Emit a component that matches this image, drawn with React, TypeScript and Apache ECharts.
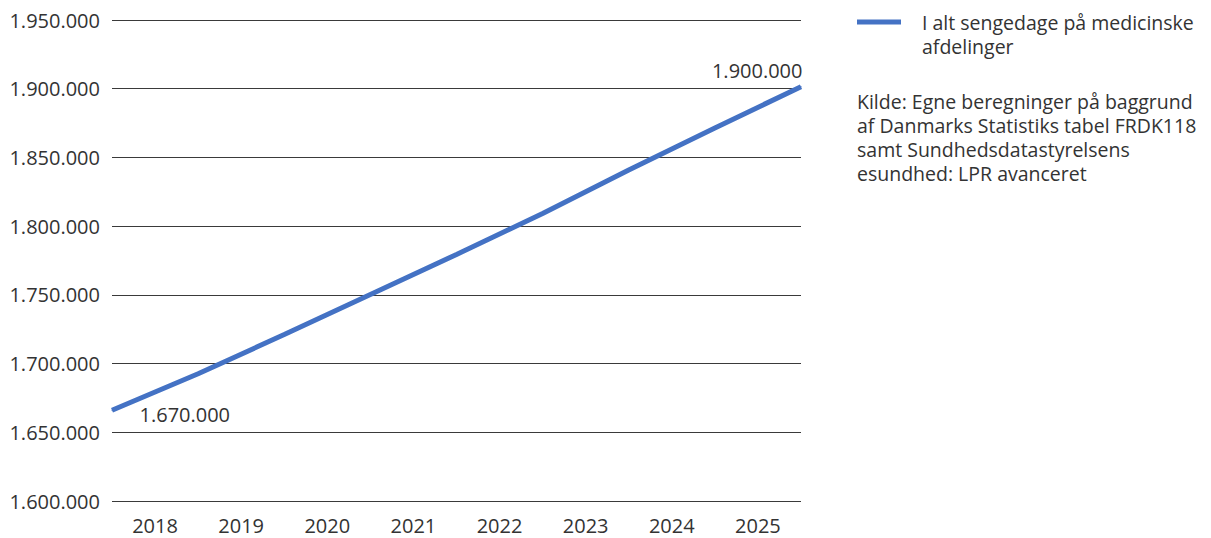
import React, { useEffect, useRef } from "react";
import * as echarts from "echarts";

const years = ["2018", "2019", "2020", "2021", "2022", "2023", "2024", "2025"];
// line values read at the category boundaries (start of 2018 ... end of 2025)
const boundaryX = [2017.5, 2018.5, 2019.5, 2020.5, 2021.5, 2022.5, 2023.5, 2024.5, 2025.5];
const sengedage = [1666000, 1692600, 1721100, 1750300, 1779400, 1809200, 1840800, 1871400, 1901500];
const pointLabels = ["1.670.000", "", "", "", "", "", "", "", "1.900.000"];
const seriesName = "I alt sengedage på medicinske\nafdelinger";
const sourceText =
  "Kilde: Egne beregninger på baggrund\naf Danmarks Statistiks tabel FRDK118\nsamt Sundhedsdatastyrelsens\nesundhed: LPR avanceret";

const FONT = "'Open Sans', 'Noto Sans', sans-serif";
const TEXT = "#333333";
const BLUE = "#4472C4";
const NUM_SIZE = 20;
const TXT_SIZE = 19.5;

const fmt = (v: number) => String(Math.round(v)).replace(/\B(?=(\d{3})+(?!\d))/g, ".");

export default function App() {
  const ref = useRef<HTMLDivElement>(null);
  useEffect(() => {
    if (!ref.current) return;
    const chart = echarts.init(ref.current, undefined, { renderer: "svg" });
    const data = boundaryX.map((x, i) => {
      const item: any = { value: [x, sengedage[i]] };
      if (pointLabels[i]) {
        item.label =
          i === 0
            ? { show: true, position: "right", distance: 27, offset: [0, 4], formatter: pointLabels[i] }
            : { show: true, position: "left", distance: 0, offset: [2, -16], formatter: pointLabels[i] };
      }
      return item;
    });
    chart.setOption({
      animation: false,
      textStyle: { fontFamily: FONT },
      grid: { left: 112, right: 410, top: 20, bottom: 37, containLabel: false },
      title: {
        text: sourceText,
        left: 857,
        top: 89,
        padding: 0,
        textStyle: { fontFamily: FONT, fontSize: TXT_SIZE, fontWeight: "normal", color: TEXT, lineHeight: 24 },
      },
      legend: {
        left: 857,
        top: -14,
        padding: 0,
        itemWidth: 44,
        itemHeight: 5,
        itemGap: 0,
        icon: "rect",
        data: [seriesName],
        formatter: (name: string) => " \n" + name,
        textStyle: {
          fontFamily: FONT,
          fontSize: TXT_SIZE,
          color: TEXT,
          lineHeight: 24,
          padding: [0, 0, 0, 16],
        },
      },
      xAxis: [
        {
          type: "category",
          data: years,
          boundaryGap: true,
          axisLine: { show: false },
          axisTick: { show: false },
          axisLabel: { fontFamily: FONT, fontSize: NUM_SIZE, color: TEXT, margin: 14 },
        },
        {
          type: "value",
          min: 2017.5,
          max: 2025.5,
          show: false,
          splitLine: { show: false },
        },
      ],
      yAxis: {
        type: "value",
        min: 1600000,
        max: 1950000,
        interval: 50000,
        axisLine: { show: false },
        axisTick: { show: false },
        axisLabel: { fontFamily: FONT, fontSize: NUM_SIZE, color: TEXT, margin: 12, formatter: fmt },
        splitLine: { lineStyle: { color: "#3a3a3a", width: 1 } },
      },
      series: [
        {
          name: seriesName,
          type: "line",
          xAxisIndex: 1,
          data,
          showSymbol: true,
          symbol: "circle",
          symbolSize: 1,
          itemStyle: { color: BLUE },
          lineStyle: { color: BLUE, width: 5 },
          label: { show: false, fontFamily: FONT, fontSize: NUM_SIZE, color: TEXT },
          emphasis: { disabled: true },
        },
      ],
    });
    return () => chart.dispose();
  }, []);
  return <div ref={ref} style={{ position: "absolute", left: 0, top: 0, width: 1211, height: 538 }} />;
}
